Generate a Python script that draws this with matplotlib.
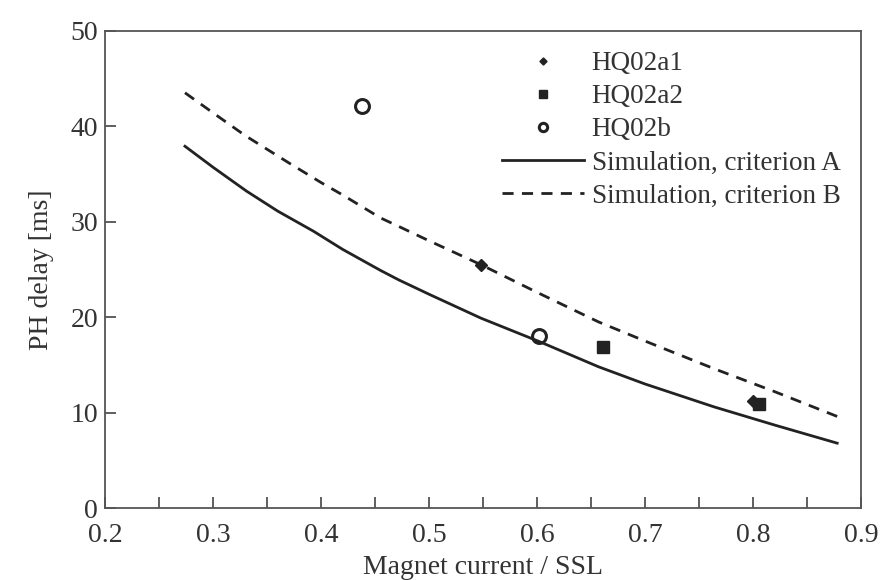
import matplotlib
matplotlib.use("Agg")
import matplotlib.pyplot as plt
from matplotlib.ticker import MultipleLocator

# measured points
a1_x = [0.548, 0.800]
a1_y = [25.5, 11.2]
a2_x = [0.661, 0.806]
a2_y = [16.9, 10.9]
b_x = [0.438, 0.602]
b_y = [42.1, 18.0]

# simulation curves
sim_a_x = [0.274, 0.30, 0.331, 0.36, 0.393, 0.42, 0.455, 0.472, 0.50, 0.548,
           0.603, 0.657, 0.70, 0.764, 0.82, 0.878]
sim_a_y = [37.9, 35.7, 33.2, 31.1, 29.0, 27.1, 24.9, 23.9, 22.4, 19.9,
           17.4, 14.8, 13.0, 10.6, 8.7, 6.8]
sim_b_x = [0.274, 0.30, 0.33, 0.371, 0.40, 0.42, 0.455, 0.472, 0.50, 0.548,
           0.60, 0.657, 0.70, 0.764, 0.82, 0.878]
sim_b_y = [43.5, 41.4, 39.0, 36.1, 34.1, 32.8, 30.4, 29.5, 28.0, 25.5,
           22.6, 19.5, 17.5, 14.6, 12.2, 9.6]

INK = "#222222"
TXT = "#333333"

plt.rcParams["font.family"] = ["Liberation Serif", "DejaVu Serif"]
plt.rcParams["font.size"] = 20

fig = plt.figure(figsize=(8.83, 5.80), dpi=100)
ax = fig.add_axes([0.119, 0.124, 0.856, 0.823])

ax.plot(a1_x, a1_y, linestyle="none", marker="D", ms=6, color=INK, label="HQ02a1")
ax.plot(a2_x, a2_y, linestyle="none", marker="s", ms=9, color=INK, label="HQ02a2")
ax.plot(b_x, b_y, linestyle="none", marker="o", ms=10, mfc="white", mec=INK,
        mew=2.2, label="HQ02b")
ax.plot(sim_a_x, sim_a_y, color=INK, lw=2.0, label="Simulation, criterion A")
ax.plot(sim_b_x, sim_b_y, color=INK, lw=2.0, ls=(0, (4, 3)),
        label="Simulation, criterion B")

ax.set_xlim(0.2, 0.9)
ax.set_ylim(0, 50)
ax.xaxis.set_major_locator(MultipleLocator(0.1))
ax.xaxis.set_minor_locator(MultipleLocator(0.05))
ax.yaxis.set_major_locator(MultipleLocator(10))
ax.tick_params(which="both", direction="in", length=8, width=1.2, color="#444444",
               labelcolor=TXT, top=False, right=False)
ax.tick_params(axis="x", pad=11)
ax.tick_params(axis="y", pad=5)
for s in ax.spines.values():
    s.set_color("#555555")
    s.set_linewidth(1.3)

ax.set_xlabel("Magnet current / SSL", color=TXT, labelpad=5)
ax.set_ylabel("PH delay [ms]", color=TXT, labelpad=12)

# legend: small markers, no frame
leg = ax.legend(loc="upper right", frameon=False, fontsize=19.5, handlelength=3.0,
                handletextpad=0.3, labelspacing=0.3, borderaxespad=0.35,
                markerscale=0.6)
for t in leg.get_texts():
    t.set_color(TXT)

fig.savefig("out.png", dpi=100, facecolor="white")
